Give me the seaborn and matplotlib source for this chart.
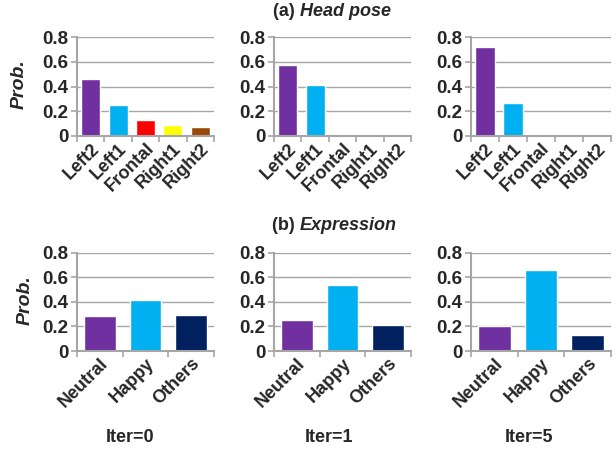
import matplotlib
matplotlib.use("Agg")
import matplotlib.pyplot as plt
import seaborn as sns
import pandas as pd
import numpy as np

# data
pose_labels = ["Left2", "Left1", "Frontal", "Right1", "Right2"]
pose_iter0 = [0.46, 0.25, 0.13, 0.09, 0.075]
pose_iter1 = [0.575, 0.41, 0.005, 0.0, 0.0]
pose_iter5 = [0.72, 0.265, 0.005, 0.0, 0.0]

expr_labels = ["Neutral", "Happy", "Others"]
expr_iter0 = [0.285, 0.415, 0.293]
expr_iter1 = [0.25, 0.54, 0.215]
expr_iter5 = [0.20, 0.66, 0.13]

iter_names = ["Iter=0", "Iter=1", "Iter=5"]
yticks = [0, 0.2, 0.4, 0.6, 0.8]

pose_colors = ["#7030A0", "#00B0F0", "#FF0000", "#FFFF00", "#984807"]
expr_colors = ["#7030A0", "#00B0F0", "#002060"]

sns.set_theme(style="white")
plt.rcParams["font.family"] = ["Liberation Sans", "DejaVu Sans"]
plt.rcParams["font.weight"] = "bold"

fig = plt.figure(figsize=(6.16, 4.51), dpi=100)

W, H = 616, 451
lefts = [77, 274, 471]
widths = [137, 137, 140]
rows = [(37, 136), (252.7, 351)]

gray = "#A6A6A6"
txt = "#262626"


def style_axis(ax, n):
    ax.set_ylim(0, 0.8)
    ax.set_xlim(-0.5, n - 0.5)
    ax.set_yticks(yticks)
    ax.set_yticklabels(["0", "0.2", "0.4", "0.6", "0.8"], fontsize=13.5, fontweight="bold", color=txt)
    ax.yaxis.grid(True, color=gray, linewidth=1)
    ax.xaxis.grid(False)
    ax.set_axisbelow(True)
    for s in ["top", "right"]:
        ax.spines[s].set_visible(False)
    for s in ["left", "bottom"]:
        ax.spines[s].set_color(gray)
        ax.spines[s].set_linewidth(1.5)
    ax.tick_params(axis="y", which="major", length=4, width=1.2, color=gray, pad=2, left=True)
    ax.set_xticks(np.arange(-0.5, n, 1.0), minor=True)
    ax.tick_params(axis="x", which="minor", length=4, width=1.2, color=gray, bottom=True)
    ax.tick_params(axis="x", which="major", length=0, pad=3)
    ax.set_xlabel("")
    ax.set_ylabel("")


pose_sets = [pose_iter0, pose_iter1, pose_iter5]
expr_sets = [expr_iter0, expr_iter1, expr_iter5]

for r, (labels, sets, colors, bw) in enumerate([
        (pose_labels, pose_sets, pose_colors, 0.7),
        (expr_labels, expr_sets, expr_colors, 0.7)]):
    top, bot = rows[r]
    for c in range(3):
        ax = fig.add_axes([lefts[c] / W, 1 - bot / H, widths[c] / W, (bot - top) / H])
        df = pd.DataFrame({"cat": labels, "val": sets[c]})
        sns.barplot(data=df, x="cat", y="val", hue="cat", palette=colors,
                    legend=False, width=bw, saturation=1, ax=ax)
        style_axis(ax, len(labels))
        ax.set_xticks(range(len(labels)))
        ax.set_xticklabels(labels, rotation=45, ha="right", rotation_mode="anchor",
                           fontsize=13, fontweight="bold", color=txt)

# titles and labels
for y, word in [(12, "Head pose"), (225, "Expression")]:
    prefix = "(a) " if y == 12 else "(b) "
    fig.text(300 / W, 1 - y / H, prefix, ha="right", va="center", fontsize=13,
             fontweight="bold", color=txt)
    fig.text(300 / W, 1 - y / H, word, ha="left", va="center", fontsize=13,
             fontweight="bold", fontstyle="italic", color=txt)

fig.text(19 / W, 1 - 84 / H, "Prob.", rotation=90, ha="center", va="center", fontsize=14,
         fontweight="bold", fontstyle="italic", color=txt)
fig.text(25 / W, 1 - 300 / H, "Prob.", rotation=90, ha="center", va="center", fontsize=14,
         fontweight="bold", fontstyle="italic", color=txt)

for c, name in enumerate(iter_names):
    x = [130, 329, 529][c]
    fig.text(x / W, 1 - 438 / H, name, ha="center", va="center", fontsize=13,
             fontweight="bold", color=txt)

fig.savefig("out.png", dpi=100)
